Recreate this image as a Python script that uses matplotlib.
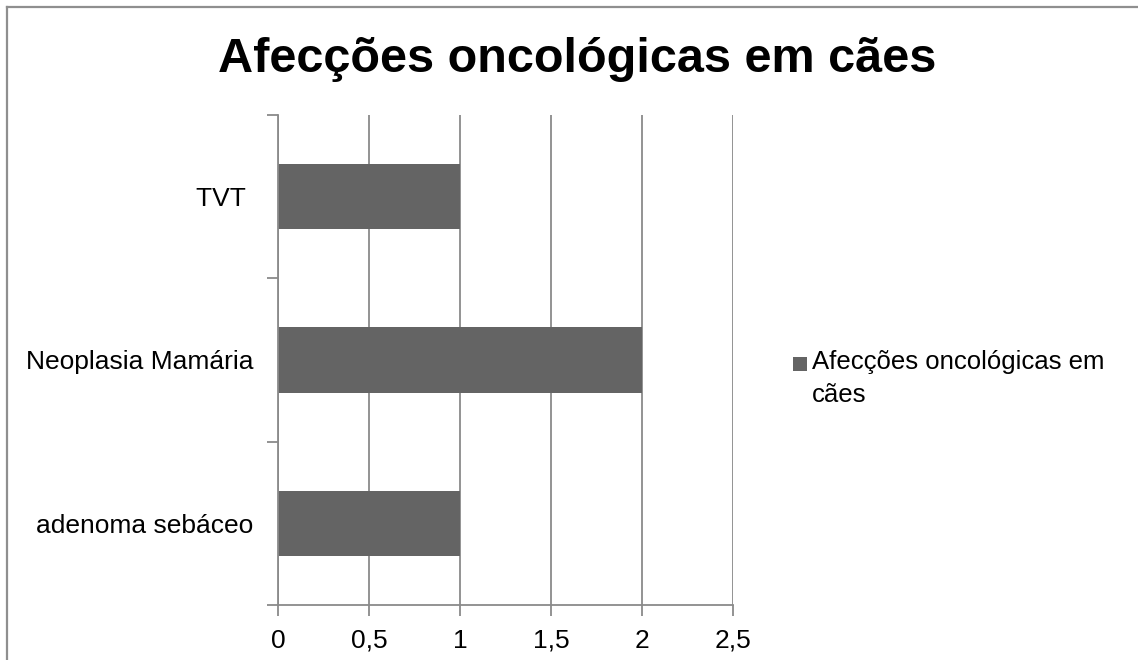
import matplotlib
matplotlib.use("Agg")
import matplotlib.pyplot as plt
from matplotlib.lines import Line2D
from matplotlib.patches import Rectangle
from matplotlib.ticker import FuncFormatter, FixedLocator
import numpy as np
import textwrap

plt.rcParams['font.family'] = ['Liberation Sans', 'DejaVu Sans']

# Data
title = "Afecções oncológicas em cães"
series_name = "Afecções oncológicas em cães"
categories = ["adenoma sebáceo", "Neoplasia Mamária", "TVT "]
values = [1, 2, 1]
x_ticks = [0, 0.5, 1, 1.5, 2, 2.5]

bar_color = "#646464"
grid_color = "#8a8a8a"

W, H = 1138, 660
fig = plt.figure(figsize=(W / 100, H / 100), dpi=100)
fig.patch.set_facecolor("white")


def fx(px):
    return px / W


def fy(py):
    return 1 - py / H


# Chart border (top and left edges visible within the frame)
fig.add_artist(Line2D([fx(7), fx(7)], [0, fy(7)], transform=fig.transFigure,
                      color="#8f8f8f", lw=1.6))
fig.add_artist(Line2D([fx(7), 1], [fy(7), fy(7)], transform=fig.transFigure,
                      color="#8f8f8f", lw=1.6))

ax = fig.add_axes([fx(278), fy(605), (733 - 278) / W, (605 - 115) / H])

y = np.arange(len(categories))
ax.barh(y, values, height=0.4, color=bar_color, zorder=3)

ax.set_xlim(0, 2.5)
ax.set_ylim(-0.5, len(categories) - 0.5)

ax.xaxis.set_major_locator(FixedLocator(x_ticks))
ax.xaxis.set_major_formatter(FuncFormatter(lambda v, p: f"{v:g}".replace(".", ",")))
ax.set_yticks(y)
ax.set_yticklabels(categories)
ax.set_yticks(np.arange(-0.5, len(categories), 1.0), minor=True)

ax.tick_params(axis="x", direction="out", length=8, width=1.3, color=grid_color,
               labelsize=19, pad=9)
ax.tick_params(axis="y", which="major", length=0, labelsize=19, pad=18)
ax.tick_params(axis="y", which="minor", direction="out", length=8, width=1.3,
               color=grid_color)

ax.grid(axis="x", color=grid_color, lw=1.3, zorder=0)
for s in ["top", "right"]:
    ax.spines[s].set_visible(False)
for s in ["left", "bottom"]:
    ax.spines[s].set_color(grid_color)
    ax.spines[s].set_linewidth(1.3)
    ax.spines[s].set_zorder(4)

fig.text(fx(577), fy(72), title, ha="center", va="baseline",
         fontsize=35, fontweight="bold")

# Legend: swatch plus wrapped series name
fig.add_artist(Rectangle((fx(793), fy(371)), 14 / W, 14 / H,
                         transform=fig.transFigure, facecolor=bar_color,
                         edgecolor="none"))
for i, line in enumerate(textwrap.wrap(series_name, 23)):
    fig.text(fx(812), fy(369 + 33 * i), line, ha="left", va="baseline",
             fontsize=18.5)

fig.savefig("out.png", dpi=100)
